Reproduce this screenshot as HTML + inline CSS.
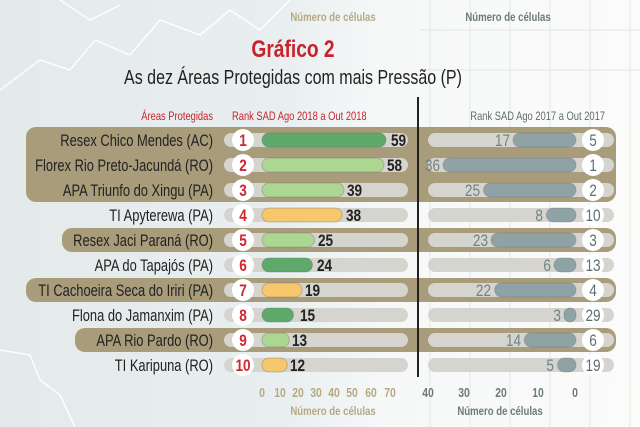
<!DOCTYPE html>
<html><head><meta charset="utf-8"><style>
html,body{margin:0;padding:0;background:#eef1f1;}
svg{display:block;font-family:"Liberation Sans",sans-serif;}
</style></head><body>
<svg width="640" height="427" viewBox="0 0 640 427" xmlns="http://www.w3.org/2000/svg">
<defs>
<linearGradient id="bg" x1="0" x2="1" y1="0" y2="0">
<stop offset="0" stop-color="#e4e9ea"/><stop offset="0.45" stop-color="#e9eff0"/><stop offset="0.6" stop-color="#f6f8f8"/><stop offset="1" stop-color="#fbfbfa"/>
</linearGradient>
</defs>
<rect width="640" height="427" fill="url(#bg)"/>
<g stroke="#ffffff" stroke-width="1.5" fill="none" opacity="0.9">
<path d="M0,90 L40,60 L70,70 L95,40 L130,55 L160,20 L200,35 L230,10 L260,30 L290,0"/>
<path d="M60,0 L90,20 L120,5"/>
<path d="M0,350 L30,355 L40,380 L60,395 L75,427"/>
</g>
<g stroke="#e3e6e6" stroke-width="1">
<line x1="430" y1="0" x2="430" y2="427"/><line x1="470" y1="0" x2="470" y2="427"/><line x1="510" y1="0" x2="510" y2="427"/><line x1="550" y1="0" x2="550" y2="427"/><line x1="590" y1="0" x2="590" y2="427"/><line x1="630" y1="0" x2="630" y2="427"/>
<line x1="420" y1="30" x2="640" y2="30"/><line x1="420" y1="70" x2="640" y2="70"/>
</g>

<text transform="translate(333,21) scale(0.8,1)" font-size="12" font-weight="bold" fill="#b7a983" text-anchor="middle">Número de células</text>
<text transform="translate(508,21) scale(0.8,1)" font-size="12" font-weight="bold" fill="#6d7a7c" text-anchor="middle">Número de células</text>

<text transform="translate(293,57) scale(0.8,1)" font-size="24" font-weight="bold" fill="#c8232c" text-anchor="middle">Gráfico 2</text>
<text transform="translate(293,84) scale(0.8,1)" font-size="20" fill="#222" text-anchor="middle">As dez Áreas Protegidas com mais Pressão (P)</text>

<text transform="translate(213,120) scale(0.78,1)" font-size="12" fill="#c8232c" text-anchor="end">Áreas Protegidas</text>
<text transform="translate(232,120) scale(0.78,1)" font-size="12" fill="#c8232c">Rank SAD Ago 2018 a Out 2018</text>
<text transform="translate(605,120) scale(0.78,1)" font-size="12" fill="#5f6c6e" text-anchor="end">Rank SAD Ago 2017 a Out 2017</text>

<g fill="#a89c7b">
<rect x="26" y="127" width="590" height="75" rx="10"/>
<rect x="62" y="228" width="554" height="24" rx="10"/>
<rect x="26" y="278" width="590" height="24" rx="10"/>
<rect x="75" y="328" width="541" height="24" rx="10"/>
</g>

<g fill="#d5d4cf">
<rect x="224" y="133" width="184" height="14" rx="7"/><rect x="428" y="133" width="186" height="14" rx="7"/>
<rect x="224" y="158" width="184" height="14" rx="7"/><rect x="428" y="158" width="186" height="14" rx="7"/>
<rect x="224" y="183" width="184" height="14" rx="7"/><rect x="428" y="183" width="186" height="14" rx="7"/>
<rect x="224" y="208" width="184" height="14" rx="7"/><rect x="428" y="208" width="186" height="14" rx="7"/>
<rect x="224" y="233" width="184" height="14" rx="7"/><rect x="428" y="233" width="186" height="14" rx="7"/>
<rect x="224" y="258" width="184" height="14" rx="7"/><rect x="428" y="258" width="186" height="14" rx="7"/>
<rect x="224" y="283" width="184" height="14" rx="7"/><rect x="428" y="283" width="186" height="14" rx="7"/>
<rect x="224" y="308" width="184" height="14" rx="7"/><rect x="428" y="308" width="186" height="14" rx="7"/>
<rect x="224" y="333" width="184" height="14" rx="7"/><rect x="428" y="333" width="186" height="14" rx="7"/>
<rect x="224" y="358" width="184" height="14" rx="7"/><rect x="428" y="358" width="186" height="14" rx="7"/>
</g>

<line x1="418" y1="97" x2="418" y2="377" stroke="#222" stroke-width="2"/>

<g stroke="#666" stroke-opacity="0.35">
<rect x="262" y="133" width="124" height="14" rx="7" fill="#5fa96b"/>
<rect x="262" y="158" width="122" height="14" rx="7" fill="#acd792"/>
<rect x="262" y="183" width="82" height="14" rx="7" fill="#acd792"/>
<rect x="262" y="208" width="80" height="14" rx="7" fill="#f7c76c"/>
<rect x="262" y="233" width="52.5" height="14" rx="7" fill="#acd792"/>
<rect x="262" y="258" width="50.4" height="14" rx="7" fill="#5fa96b"/>
<rect x="262" y="283" width="40" height="14" rx="7" fill="#f7c76c"/>
<rect x="262" y="308" width="31.5" height="14" rx="7" fill="#5fa96b"/>
<rect x="262" y="333" width="27.3" height="14" rx="7" fill="#acd792"/>
<rect x="262" y="358" width="25.2" height="14" rx="7" fill="#f7c76c"/>
</g>
<g font-size="17" font-weight="bold" fill="#222">
<text transform="translate(391,146) scale(0.8,1)">59</text>
<text transform="translate(387,171) scale(0.8,1)">58</text>
<text transform="translate(347,196) scale(0.8,1)">39</text>
<text transform="translate(346,221) scale(0.8,1)">38</text>
<text transform="translate(318,246) scale(0.8,1)">25</text>
<text transform="translate(317,271) scale(0.8,1)">24</text>
<text transform="translate(305,296) scale(0.8,1)">19</text>
<text transform="translate(300,321) scale(0.8,1)">15</text>
<text transform="translate(292,346) scale(0.8,1)">13</text>
<text transform="translate(290,371) scale(0.8,1)">12</text>
</g>

<g fill="#8fa2a5" stroke="#667" stroke-opacity="0.3">
<rect x="513" y="133" width="63" height="14" rx="7"/>
<rect x="443" y="158" width="133" height="14" rx="7"/>
<rect x="483.5" y="183" width="92.5" height="14" rx="7"/>
<rect x="546.4" y="208" width="29.6" height="14" rx="7"/>
<rect x="491" y="233" width="85" height="14" rx="7"/>
<rect x="554" y="258" width="22" height="14" rx="7"/>
<rect x="494.6" y="283" width="81.4" height="14" rx="7"/>
<rect x="564" y="308" width="12" height="14" rx="6"/>
<rect x="524.2" y="333" width="51.8" height="14" rx="7"/>
<rect x="557.5" y="358" width="18.5" height="14" rx="7"/>
</g>
<g font-size="17" fill="#6f8385" text-anchor="end">
<text transform="translate(510,146) scale(0.8,1)">17</text>
<text transform="translate(440,171) scale(0.8,1)">36</text>
<text transform="translate(480,196) scale(0.8,1)">25</text>
<text transform="translate(543,221) scale(0.8,1)">8</text>
<text transform="translate(488,246) scale(0.8,1)">23</text>
<text transform="translate(551,271) scale(0.8,1)">6</text>
<text transform="translate(491,296) scale(0.8,1)">22</text>
<text transform="translate(561,321) scale(0.8,1)">3</text>
<text transform="translate(521,346) scale(0.8,1)">14</text>
<text transform="translate(554,371) scale(0.8,1)">5</text>
</g>

<g fill="#fff">
<circle cx="243" cy="140" r="11"/><circle cx="243" cy="165" r="11"/><circle cx="243" cy="190" r="11"/><circle cx="243" cy="215" r="11"/><circle cx="243" cy="240" r="11"/><circle cx="243" cy="265" r="11"/><circle cx="243" cy="290" r="11"/><circle cx="243" cy="315" r="11"/><circle cx="243" cy="340" r="11"/><circle cx="243" cy="365" r="11"/>
<circle cx="593" cy="140" r="11"/><circle cx="593" cy="165" r="11"/><circle cx="593" cy="190" r="11"/><circle cx="593" cy="215" r="11"/><circle cx="593" cy="240" r="11"/><circle cx="593" cy="265" r="11"/><circle cx="593" cy="290" r="11"/><circle cx="593" cy="315" r="11"/><circle cx="593" cy="340" r="11"/><circle cx="593" cy="365" r="11"/>
</g>
<g font-size="17" font-weight="bold" fill="#d0262f" text-anchor="middle">
<text transform="translate(243,146) scale(0.8,1)">1</text>
<text transform="translate(243,171) scale(0.8,1)">2</text>
<text transform="translate(243,196) scale(0.8,1)">3</text>
<text transform="translate(243,221) scale(0.8,1)">4</text>
<text transform="translate(243,246) scale(0.8,1)">5</text>
<text transform="translate(243,271) scale(0.8,1)">6</text>
<text transform="translate(243,296) scale(0.8,1)">7</text>
<text transform="translate(243,321) scale(0.8,1)">8</text>
<text transform="translate(243,346) scale(0.8,1)">9</text>
<text transform="translate(243,371) scale(0.8,1)">10</text>
</g>
<g font-size="17" fill="#5d7072" text-anchor="middle">
<text transform="translate(593,146) scale(0.8,1)">5</text>
<text transform="translate(593,171) scale(0.8,1)">1</text>
<text transform="translate(593,196) scale(0.8,1)">2</text>
<text transform="translate(593,221) scale(0.8,1)">10</text>
<text transform="translate(593,246) scale(0.8,1)">3</text>
<text transform="translate(593,271) scale(0.8,1)">13</text>
<text transform="translate(593,296) scale(0.8,1)">4</text>
<text transform="translate(593,321) scale(0.8,1)">29</text>
<text transform="translate(593,346) scale(0.8,1)">6</text>
<text transform="translate(593,371) scale(0.8,1)">19</text>
</g>

<g font-size="17" fill="#222" text-anchor="end">
<text transform="translate(213,146) scale(0.76,1)">Resex Chico Mendes (AC)</text>
<text transform="translate(213,171) scale(0.76,1)">Florex Rio Preto-Jacundá (RO)</text>
<text transform="translate(213,196) scale(0.76,1)">APA Triunfo do Xingu (PA)</text>
<text transform="translate(213,221) scale(0.76,1)">TI Apyterewa (PA)</text>
<text transform="translate(213,246) scale(0.76,1)">Resex Jaci Paraná (RO)</text>
<text transform="translate(213,271) scale(0.76,1)">APA do Tapajós (PA)</text>
<text transform="translate(213,296) scale(0.76,1)">TI Cachoeira Seca do Iriri (PA)</text>
<text transform="translate(213,321) scale(0.76,1)">Flona do Jamanxim (PA)</text>
<text transform="translate(213,346) scale(0.76,1)">APA Rio Pardo (RO)</text>
<text transform="translate(213,371) scale(0.76,1)">TI Karipuna (RO)</text>
</g>

<g font-size="13" font-weight="bold" text-anchor="middle">
<g fill="#b7a983">
<text transform="translate(262,397) scale(0.8,1)">0</text><text transform="translate(280,397) scale(0.8,1)">10</text><text transform="translate(298,397) scale(0.8,1)">20</text><text transform="translate(316,397) scale(0.8,1)">30</text><text transform="translate(334,397) scale(0.8,1)">40</text><text transform="translate(352,397) scale(0.8,1)">50</text><text transform="translate(371,397) scale(0.8,1)">60</text><text transform="translate(390,397) scale(0.8,1)">70</text>
</g>
<g fill="#6d7a7c">
<text transform="translate(428,397) scale(0.8,1)">40</text><text transform="translate(464,397) scale(0.8,1)">30</text><text transform="translate(501,397) scale(0.8,1)">20</text><text transform="translate(538,397) scale(0.8,1)">10</text><text transform="translate(575,397) scale(0.8,1)">0</text>
</g>
</g>
<text transform="translate(333,415) scale(0.8,1)" font-size="12" font-weight="bold" fill="#b7a983" text-anchor="middle">Número de células</text>
<text transform="translate(500,415) scale(0.8,1)" font-size="12" font-weight="bold" fill="#6d7a7c" text-anchor="middle">Número de células</text>
</svg>
</body></html>
